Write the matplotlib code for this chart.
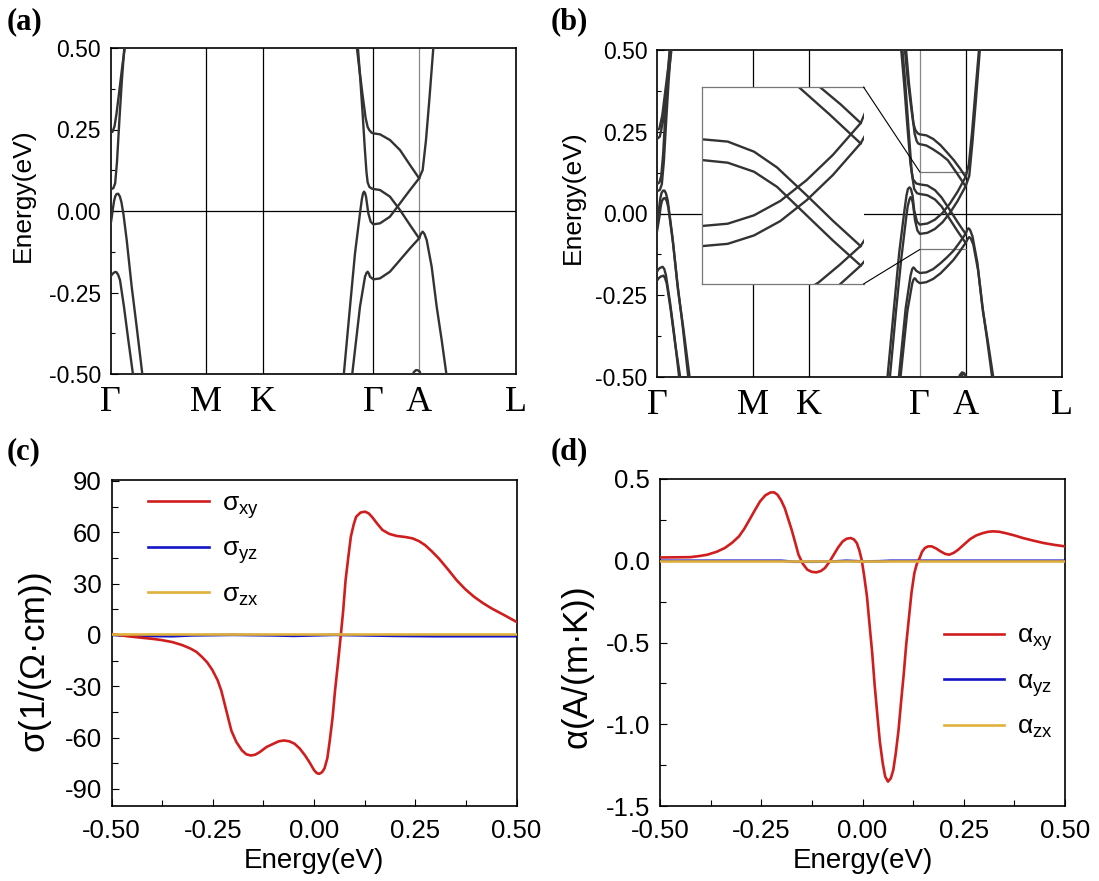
import matplotlib
matplotlib.use('Agg')
import matplotlib.pyplot as plt
from matplotlib.patches import ConnectionPatch
from matplotlib.ticker import MultipleLocator, FormatStrFormatter

plt.rcParams['font.family'] = ['Liberation Sans', 'DejaVu Sans']
plt.rcParams['mathtext.fontset'] = 'custom'
plt.rcParams['mathtext.rm'] = 'Liberation Sans'
plt.rcParams['mathtext.it'] = 'Liberation Sans:italic'
plt.rcParams['mathtext.sf'] = 'Liberation Sans'
plt.rcParams['axes.unicode_minus'] = False

# ---------------- k-path ----------------
kpath_labels = ['Γ', 'M', 'K', 'Γ', 'A', 'L']
kpath_pos = [0.0, 0.236, 0.376, 0.649, 0.762, 1.0]

# ---------------- panel (a) bands ----------------
a_c1_k = [0.0, 0.005, 0.010, 0.015, 0.022, 0.030, 0.037]
a_c1_e = [0.240, 0.243, 0.260, 0.300, 0.371, 0.453, 0.515]
a_c2_k = [0.0, 0.007, 0.0115, 0.016, 0.022, 0.028, 0.035]
a_c2_e = [0.066, 0.070, 0.085, 0.150, 0.280, 0.400, 0.515]
a_v1_k = [0.0, 0.003, 0.006, 0.009, 0.012, 0.015, 0.019, 0.023, 0.027, 0.032, 0.040, 0.0523, 0.0646, 0.0800]
a_v1_e = [-0.043, -0.020, 0.008, 0.032, 0.046, 0.052, 0.053, 0.045, 0.027, -0.010, -0.089, -0.232, -0.355, -0.515]
a_v2_k = [0.0, 0.004, 0.0086, 0.012, 0.015, 0.019, 0.0235, 0.0333, 0.044, 0.0570]
a_v2_e = [-0.202, -0.194, -0.189, -0.187, -0.188, -0.196, -0.212, -0.294, -0.396, -0.515]

a_l1_k = [0.607, 0.615, 0.623, 0.630, 0.6349, 0.6391, 0.6449, 0.649, 0.6654, 0.690, 0.7148, 0.7395, 0.762]
a_l1_e = [0.515, 0.430, 0.350, 0.285, 0.258, 0.248, 0.240, 0.2382, 0.2352, 0.2178, 0.187, 0.1411, 0.1002]
a_l2_k = [0.610, 0.617, 0.623, 0.628, 0.632, 0.6349, 0.6391, 0.6449, 0.649, 0.6654, 0.690, 0.7148, 0.7395, 0.762]
a_l2_e = [0.515, 0.400, 0.290, 0.190, 0.120, 0.088, 0.074, 0.069, 0.0675, 0.0644, 0.044, 0.003, -0.043, -0.0839]
a_l3_k = [0.575, 0.5914, 0.6037, 0.616, 0.6205, 0.6235, 0.626, 0.6285, 0.6309, 0.6366, 0.6424, 0.649,
          0.6654, 0.690, 0.7148, 0.7395, 0.762, 0.7708, 0.779, 0.7872, 0.798]
a_l3_e = [-0.515, -0.2935, -0.13, -0.0072, 0.035, 0.054, 0.0593, 0.055, 0.044, -0.0072, -0.0327, -0.0409,
          -0.0378, -0.0174, 0.0235, 0.0644, 0.1002, 0.1258, 0.2178, 0.3405, 0.515]
a_l4_k = [0.5955, 0.616, 0.6284, 0.632, 0.635, 0.638, 0.6407, 0.649, 0.6654, 0.690, 0.7148, 0.7395, 0.762,
          0.7665, 0.7708, 0.775, 0.7807, 0.793, 0.8054, 0.8177, 0.831]
a_l4_e = [-0.515, -0.2935, -0.2016, -0.19, -0.1862, -0.192, -0.2016, -0.2097, -0.2067, -0.1862, -0.1504,
          -0.1146, -0.0839, -0.070, -0.0634, -0.070, -0.089, -0.1709, -0.2935, -0.3957, -0.515]
a_loop_k = [0.7436, 0.7490, 0.7544, 0.7600, 0.7642, 0.7660]
a_loop_e = [-0.51, -0.494, -0.488, -0.489, -0.494, -0.51]

# ---------------- panel (b) bands (spin-split pairs) ----------------
b_c1_k = [0.0, 0.006, 0.013, 0.021, 0.029, 0.034]
b_c1_e = [0.255, 0.260, 0.300, 0.380, 0.460, 0.515]
b_c2_k = [0.0, 0.007, 0.0145, 0.023, 0.031, 0.037]
b_c2_e = [0.228, 0.235, 0.280, 0.370, 0.450, 0.515]
b_c3_k = [0.0, 0.006, 0.0105, 0.015, 0.021, 0.027, 0.032]
b_c3_e = [0.090, 0.095, 0.115, 0.180, 0.310, 0.430, 0.515]
b_c4_k = [0.0, 0.007, 0.012, 0.017, 0.023, 0.029, 0.035]
b_c4_e = [0.068, 0.072, 0.090, 0.160, 0.290, 0.410, 0.515]
b_v1_k = [0.0, 0.005, 0.008, 0.011, 0.015, 0.0185, 0.022, 0.0265, 0.038, 0.050, 0.063, 0.0785]
b_v1_e = [-0.030, 0.015, 0.045, 0.062, 0.070, 0.070, 0.062, 0.040, -0.070, -0.210, -0.340, -0.515]
b_v2_k = [0.0, 0.006, 0.009, 0.012, 0.016, 0.020, 0.024, 0.028, 0.040, 0.052, 0.066, 0.082]
b_v2_e = [-0.055, -0.010, 0.020, 0.038, 0.046, 0.047, 0.038, 0.018, -0.095, -0.235, -0.360, -0.515]
b_v3_k = [0.0, 0.004, 0.008, 0.014, 0.018, 0.022, 0.032, 0.043, 0.056]
b_v3_e = [-0.178, -0.170, -0.166, -0.163, -0.170, -0.188, -0.270, -0.375, -0.515]
b_v4_k = [0.0, 0.005, 0.009, 0.016, 0.020, 0.024, 0.034, 0.045, 0.059]
b_v4_e = [-0.205, -0.197, -0.193, -0.190, -0.198, -0.214, -0.296, -0.400, -0.515]

b_l1a_k = [0.611, 0.619, 0.627, 0.633, 0.638, 0.644, 0.649, 0.665, 0.682, 0.700, 0.716, 0.733, 0.748, 0.762]
b_l1a_e = [0.515, 0.410, 0.330, 0.275, 0.255, 0.245, 0.242, 0.239, 0.228, 0.209, 0.187, 0.163, 0.138, 0.112]
b_l1b_k = [0.614, 0.622, 0.630, 0.636, 0.641, 0.645, 0.649, 0.665, 0.682, 0.700, 0.718, 0.740, 0.762]
b_l1b_e = [0.515, 0.400, 0.310, 0.245, 0.222, 0.214, 0.212, 0.208, 0.196, 0.181, 0.163, 0.124, 0.083]
b_l2a_k = [0.602, 0.610, 0.618, 0.626, 0.632, 0.640, 0.649, 0.6676, 0.6863, 0.7026, 0.7236, 0.7422, 0.762]
b_l2a_e = [0.515, 0.400, 0.270, 0.150, 0.105, 0.092, 0.089, 0.0857, 0.0714, 0.0491, 0.0097, -0.0263, -0.0624]
b_l2b_k = [0.605, 0.613, 0.621, 0.629, 0.635, 0.642, 0.649, 0.6676, 0.6863, 0.7026, 0.7236, 0.7422, 0.762]
b_l2b_e = [0.515, 0.400, 0.260, 0.125, 0.075, 0.062, 0.0596, 0.0558, 0.043, 0.0216, -0.0187, -0.0543, -0.0899]
b_l3a_k = [0.568, 0.585, 0.598, 0.611, 0.616, 0.6195, 0.6235, 0.627, 0.631, 0.635, 0.642, 0.649,
           0.6676, 0.6863, 0.705, 0.7236, 0.7422, 0.762, 0.770, 0.778, 0.786, 0.796]
b_l3a_e = [-0.515, -0.290, -0.120, 0.010, 0.055, 0.075, 0.080, 0.075, 0.055, 0.010, -0.025, -0.0339,
           -0.0306, -0.0187, 0.0017, 0.0311, 0.0667, 0.1118, 0.150, 0.250, 0.370, 0.515]
b_l3b_k = [0.574, 0.590, 0.603, 0.615, 0.619, 0.623, 0.626, 0.629, 0.632, 0.637, 0.643, 0.649,
           0.6676, 0.6863, 0.705, 0.7236, 0.7422, 0.762, 0.771, 0.779, 0.787, 0.798]
b_l3b_e = [-0.515, -0.300, -0.140, -0.015, 0.022, 0.042, 0.050, 0.046, 0.030, -0.020, -0.052, -0.0624,
           -0.0591, -0.0472, -0.0268, 0.0026, 0.0382, 0.0833, 0.115, 0.220, 0.340, 0.515]
b_l4a_k = [0.596, 0.614, 0.626, 0.630, 0.633, 0.636, 0.640, 0.649, 0.665, 0.682, 0.700, 0.716, 0.732, 0.747,
           0.762, 0.766, 0.769, 0.773, 0.779, 0.791, 0.803, 0.815, 0.829]
b_l4a_e = [-0.515, -0.290, -0.190, -0.170, -0.165, -0.168, -0.175, -0.182, -0.180, -0.170, -0.152, -0.134,
           -0.114, -0.089, -0.062, -0.050, -0.045, -0.050, -0.070, -0.150, -0.280, -0.385, -0.515]
b_l4b_k = [0.600, 0.618, 0.630, 0.633, 0.636, 0.639, 0.642, 0.649, 0.665, 0.682, 0.700, 0.716, 0.732, 0.747,
           0.762, 0.768, 0.771, 0.775, 0.781, 0.793, 0.805, 0.818, 0.832]
b_l4b_e = [-0.515, -0.300, -0.215, -0.203, -0.198, -0.201, -0.207, -0.213, -0.210, -0.200, -0.183, -0.163,
           -0.142, -0.117, -0.090, -0.076, -0.072, -0.077, -0.095, -0.175, -0.300, -0.400, -0.515]
b_loop1_k = [0.742, 0.748, 0.753, 0.758, 0.762]
b_loop1_e = [-0.51, -0.494, -0.486, -0.488, -0.496]
b_loop2_k = [0.746, 0.751, 0.756, 0.760, 0.763]
b_loop2_e = [-0.51, -0.497, -0.491, -0.492, -0.500]

# zoom window of the inset in (b)
zoom_k = [0.649, 0.762]
zoom_e_box = [-0.110, 0.127]
zoom_e_inset = [-0.116, 0.163]

# ---------------- panel (c): anomalous Hall conductivity ----------------
c_energy = [-0.500, -0.460, -0.429, -0.400, -0.377, -0.350, -0.325, -0.305, -0.290, -0.277, -0.264, -0.251,
            -0.238, -0.229, -0.221, -0.212, -0.204, -0.192, -0.178, -0.167, -0.156, -0.145, -0.134, -0.117,
            -0.100, -0.087, -0.074, -0.061, -0.048, -0.035, -0.022, -0.011, 0.000, 0.007, 0.013, 0.020,
            0.026, 0.033, 0.039, 0.046, 0.052, 0.059, 0.065, 0.072, 0.078, 0.085, 0.091, 0.098, 0.104,
            0.115, 0.126, 0.135, 0.143, 0.156, 0.169, 0.186, 0.204, 0.225, 0.243, 0.259, 0.274, 0.291,
            0.308, 0.330, 0.352, 0.373, 0.395, 0.417, 0.439, 0.470, 0.500]
sigma_xy = [0.5, -0.8, -1.6, -2.3, -3.0, -4.2, -6.0, -8.0, -10.0, -12.8, -16.0, -20.5,
            -26.5, -32.5, -40.0, -48.5, -56.0, -62.5, -67.5, -69.8, -70.5, -70.0, -68.5, -65.5,
            -63.6, -62.2, -61.7, -62.2, -63.6, -66.5, -70.5, -74.5, -79.0, -80.8, -81.2, -80.2,
            -78.0, -72.0, -61.7, -48.0, -32.4, -17.0, -3.0, 14.0, 32.0, 46.0, 57.4, 64.5, 69.0,
            71.5, 72.0, 71.0, 69.0, 65.0, 61.3, 59.0, 57.8, 57.2, 56.4, 54.8, 52.5, 48.8,
            44.7, 38.5, 32.0, 26.8, 22.3, 18.6, 15.4, 11.5, 7.6]
c_energy_small = [-0.50, -0.45, -0.35, -0.30, -0.20, -0.10, -0.05, 0.00, 0.05, 0.20, 0.30, 0.50]
sigma_yz = [0.0, -0.6, -0.8, -0.3, 0.0, -0.3, -0.6, -0.3, 0.0, -0.6, -0.8, -0.8]
sigma_zx = [0.3, 0.3, 0.3, 0.3, 0.3, 0.3, 0.3, 0.3, 0.3, 0.3, 0.3, 0.3]

# ---------------- panel (d): anomalous Nernst conductivity ----------------
d_energy = [-0.500, -0.460, -0.426, -0.405, -0.383, -0.360, -0.340, -0.322, -0.305, -0.292, -0.279, -0.266,
            -0.253, -0.240, -0.227, -0.218, -0.210, -0.201, -0.192, -0.184, -0.175, -0.166, -0.158, -0.147,
            -0.136, -0.125, -0.114, -0.103, -0.093, -0.082, -0.071, -0.060, -0.049, -0.039, -0.029, -0.021,
            -0.014, -0.008, -0.002, 0.004, 0.011, 0.017, 0.024, 0.030, 0.037, 0.043, 0.050, 0.056,
            0.063, 0.070, 0.076, 0.082, 0.089, 0.095, 0.102, 0.108, 0.115, 0.121, 0.128, 0.134,
            0.141, 0.147, 0.154, 0.162, 0.171, 0.182, 0.193, 0.204, 0.214, 0.225, 0.236, 0.251,
            0.266, 0.281, 0.297, 0.310, 0.323, 0.338, 0.353, 0.375, 0.396, 0.422, 0.448, 0.474, 0.500]
alpha_xy = [0.020, 0.021, 0.022, 0.028, 0.037, 0.055, 0.078, 0.110, 0.149, 0.195, 0.251, 0.308,
            0.363, 0.400, 0.418, 0.418, 0.404, 0.370, 0.322, 0.260, 0.190, 0.110, 0.037, -0.020,
            -0.055, -0.068, -0.071, -0.063, -0.045, -0.008, 0.037, 0.082, 0.118, 0.135, 0.139, 0.130,
            0.108, 0.065, 0.006, -0.090, -0.218, -0.380, -0.565, -0.760, -0.953, -1.110, -1.239, -1.320,
            -1.351, -1.330, -1.280, -1.180, -1.035, -0.870, -0.688, -0.510, -0.341, -0.195, -0.076, -0.020,
            0.016, 0.055, 0.078, 0.088, 0.088, 0.075, 0.057, 0.042, 0.037, 0.048, 0.067, 0.100,
            0.133, 0.155, 0.169, 0.177, 0.180, 0.177, 0.169, 0.155, 0.139, 0.123, 0.108, 0.097, 0.088]
d_energy_small = [-0.50, -0.20, -0.17, -0.12, -0.07, -0.04, 0.00, 0.04, 0.07, 0.50]
alpha_yz = [0.0, 0.0, -0.006, -0.006, -0.004, 0.0, -0.004, -0.003, 0.0, 0.0]
alpha_zx = [0.0, 0.0, 0.0, 0.0, 0.0, 0.0, 0.0, 0.0, 0.0, 0.0]

# ---------------- styles ----------------
BAND = '#333333'
RED = '#D01E1E'
BLUE = '#1414C8'
GOLD = '#E0B03C'
TICK_FS = 16.5
BIG_TICK_FS = 18.5
KLABEL_FS = 26

fig = plt.figure(figsize=(10.99, 8.81), dpi=100)

ax_a = fig.add_axes([110.5 / 1099, 1 - 374 / 881, 405 / 1099, 326 / 881])
ax_b = fig.add_axes([657 / 1099, 1 - 377 / 881, 405 / 1099, 327 / 881])
ax_c = fig.add_axes([111.5 / 1099, 1 - 806 / 881, 405 / 1099, 326 / 881])
ax_d = fig.add_axes([660 / 1099, 1 - 806 / 881, 405 / 1099, 327 / 881])


def style_band_axes(ax, gray_idx):
    ax.set_xlim(0, 1)
    ax.set_ylim(-0.5, 0.5)
    for i, kp in enumerate(kpath_pos[1:-1], start=1):
        ax.axvline(kp, color='#888888' if i == gray_idx else 'black', lw=0.9, zorder=1)
    ax.axhline(0, color='black', lw=0.9, zorder=1)
    ax.set_xticks(kpath_pos)
    ax.set_xticklabels(kpath_labels, fontfamily='Liberation Serif', fontsize=KLABEL_FS)
    ax.tick_params(axis='x', length=0, pad=9)
    ax.yaxis.set_major_locator(MultipleLocator(0.25))
    ax.yaxis.set_minor_locator(MultipleLocator(0.125))
    ax.yaxis.set_major_formatter(FormatStrFormatter('%.2f'))
    ax.tick_params(axis='y', which='both', direction='in', labelsize=TICK_FS, pad=7)
    ax.tick_params(axis='y', which='major', length=5, width=0.8)
    ax.tick_params(axis='y', which='minor', length=3, width=0.8)
    for s in ax.spines.values():
        s.set_linewidth(1.2)
    ax.set_ylabel('Energy(eV)', fontsize=19)


# ----- (a) -----
for kk, ee in [(a_c1_k, a_c1_e), (a_c2_k, a_c2_e), (a_v1_k, a_v1_e), (a_v2_k, a_v2_e),
               (a_l1_k, a_l1_e), (a_l2_k, a_l2_e), (a_l3_k, a_l3_e), (a_l4_k, a_l4_e),
               (a_loop_k, a_loop_e)]:
    ax_a.plot(kk, ee, color=BAND, lw=1.7, zorder=3, solid_joinstyle='round')
style_band_axes(ax_a, gray_idx=4)
ax_a.yaxis.set_label_coords(-0.186, 0.55)

# ----- (b) -----
b_lines = [(b_c1_k, b_c1_e), (b_c2_k, b_c2_e), (b_c3_k, b_c3_e), (b_c4_k, b_c4_e),
           (b_v1_k, b_v1_e), (b_v2_k, b_v2_e), (b_v3_k, b_v3_e), (b_v4_k, b_v4_e),
           (b_l1a_k, b_l1a_e), (b_l1b_k, b_l1b_e), (b_l2a_k, b_l2a_e), (b_l2b_k, b_l2b_e),
           (b_l3a_k, b_l3a_e), (b_l3b_k, b_l3b_e), (b_l4a_k, b_l4a_e), (b_l4b_k, b_l4b_e),
           (b_loop1_k, b_loop1_e), (b_loop2_k, b_loop2_e)]
for kk, ee in b_lines:
    ax_b.plot(kk, ee, color=BAND, lw=1.7, zorder=3, solid_joinstyle='round')
style_band_axes(ax_b, gray_idx=3)
ax_b.yaxis.set_label_coords(-0.178, 0.55)
# zoom rectangle
ax_b.plot(zoom_k, [zoom_e_box[1], zoom_e_box[1]], color='#777777', lw=0.9, zorder=2)
ax_b.plot(zoom_k, [zoom_e_box[0], zoom_e_box[0]], color='#777777', lw=0.9, zorder=2)

# inset
ax_in = fig.add_axes([701.5 / 1099, 1 - 284 / 881, 162 / 1099, 197 / 881])
ax_in.set_facecolor('white')
for kk, ee in b_lines[8:16]:
    ax_in.plot(kk, ee, color=BAND, lw=1.7, solid_joinstyle='round')
ax_in.set_xlim(zoom_k[0], zoom_k[1] + 0.002)
ax_in.set_ylim(zoom_e_inset[0], zoom_e_inset[1])
ax_in.set_xticks([])
ax_in.set_yticks([])
ax_in.spines['right'].set_visible(False)
for side in ['left', 'top', 'bottom']:
    ax_in.spines[side].set_color('#777777')
    ax_in.spines[side].set_linewidth(0.9)
for ya, yb in [(1, zoom_e_box[1]), (0, zoom_e_box[0])]:
    con = ConnectionPatch(xyA=(1, ya), coordsA=ax_in.transAxes,
                          xyB=(zoom_k[0], yb), coordsB=ax_b.transData,
                          color='black', lw=0.8)
    fig.add_artist(con)


def style_transport_axes(ax):
    ax.set_xlim(-0.5, 0.5)
    ax.xaxis.set_major_locator(MultipleLocator(0.25))
    ax.xaxis.set_minor_locator(MultipleLocator(0.125))
    ax.xaxis.set_major_formatter(FormatStrFormatter('%.2f'))
    ax.tick_params(which='both', direction='in', labelsize=BIG_TICK_FS, top=False, right=False)
    ax.tick_params(which='major', length=5, width=0.8)
    ax.tick_params(which='minor', length=4, width=0.8)
    ax.tick_params(axis='x', pad=9)
    ax.tick_params(axis='y', pad=7)
    for s in ax.spines.values():
        s.set_linewidth(1.2)
    ax.set_xlabel('Energy(eV)', fontsize=20, labelpad=4)


# ----- (c) -----
ax_c.plot(c_energy, sigma_xy, color=RED, lw=1.9, label=r'$\mathregular{\sigma_{xy}}$', zorder=3)
ax_c.plot(c_energy_small, sigma_yz, color=BLUE, lw=1.9, label=r'$\mathregular{\sigma_{yz}}$', zorder=2)
ax_c.plot(c_energy_small, sigma_zx, color=GOLD, lw=1.9, label=r'$\mathregular{\sigma_{zx}}$', zorder=4)
ax_c.set_ylim(-100, 90.5)
ax_c.yaxis.set_major_locator(MultipleLocator(30))
ax_c.yaxis.set_minor_locator(MultipleLocator(15))
style_transport_axes(ax_c)
ax_c.set_ylabel(r'$\mathregular{\sigma}$(1/($\mathregular{\Omega}$·cm))', fontsize=25)
ax_c.yaxis.set_label_coords(-0.142, 0.44)
ax_c.legend(loc='upper left', bbox_to_anchor=(0.09, 0.965), frameon=False, fontsize=19,
            handlelength=2.3, handletextpad=0.5, labelspacing=0.62, borderpad=0, borderaxespad=0)

# ----- (d) -----
ax_d.plot(d_energy, alpha_xy, color=RED, lw=1.9, label=r'$\mathregular{\alpha_{xy}}$', zorder=3)
ax_d.plot(d_energy_small, alpha_yz, color=BLUE, lw=1.9, label=r'$\mathregular{\alpha_{yz}}$', zorder=2)
ax_d.plot(d_energy_small, alpha_zx, color=GOLD, lw=1.9, label=r'$\mathregular{\alpha_{zx}}$', zorder=4)
ax_d.set_ylim(-1.5, 0.5)
ax_d.yaxis.set_major_locator(MultipleLocator(0.5))
ax_d.yaxis.set_minor_locator(MultipleLocator(0.25))
ax_d.yaxis.set_major_formatter(FormatStrFormatter('%.1f'))
style_transport_axes(ax_d)
ax_d.set_ylabel(r'$\mathregular{\alpha}$(A/(m·K))', fontsize=25)
ax_d.yaxis.set_label_coords(-0.155, 0.42)
ax_d.legend(loc='upper left', bbox_to_anchor=(0.70, 0.557), frameon=False, fontsize=19,
            handlelength=2.3, handletextpad=0.5, labelspacing=0.62, borderpad=0, borderaxespad=0)

# panel labels
for txt, x, y in [('(a)', 7, 22), ('(b)', 551, 22), ('(c)', 7, 452), ('(d)', 551, 452)]:
    fig.text(x / 1099, 1 - y / 881, txt, fontfamily='Liberation Serif', fontweight='bold',
             fontsize=22, va='center', ha='left')

fig.savefig('out.png', dpi=100)
